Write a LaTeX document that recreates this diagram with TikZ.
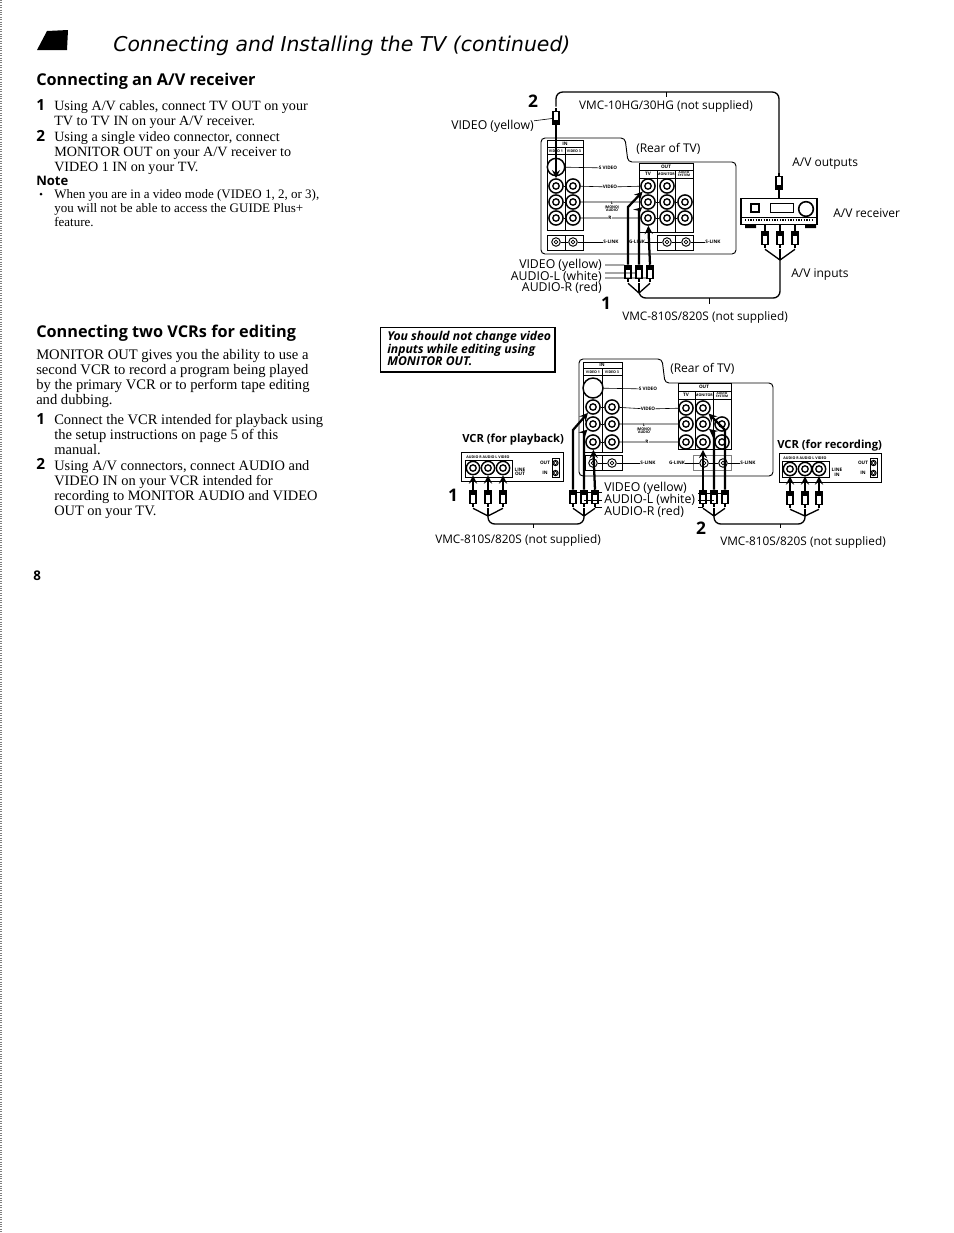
\documentclass[tikz,border=0pt]{standalone}
\usepackage{fontspec}
\setmainfont{Liberation Serif}
\setsansfont{Open Sans}
\newfontfamily\titlefont{DejaVu Sans}
\usetikzlibrary{arrows,positioning,calc}
\newcommand{\pxfont}[1]{\fontsize{#1}{#1}\selectfont}
\newcommand{\linefont}[1]{\fontsize{#1}{11.25}\selectfont}
% plug body: collar towards the tip, tail towards the cable (#4=1 tip up, -1 tip down)
\newcommand{\plugat}[4]{\draw[line width=1.7pt] (#2,{#3+#4*5}) -- (#2,{#3+#4*10});
  \node[plugbody] (#1) at (#2,#3) {};
  \fill (#2-3.5,{#3-#4*7}) rectangle (#2+3.5,{#3-#4*2});}

\begin{document}
\begin{tikzpicture}[x=0.75pt,y=-0.75pt,
    body/.style={font=\linefont{10.6}, align=left, anchor=north west, inner sep=0pt, text depth=0pt},
    stepnum/.style={font=\sffamily\bfseries\pxfont{11.5}, anchor=west, inner sep=0pt},
    head/.style={font=\sffamily\bfseries\pxfont{12.2}, anchor=west, inner sep=0pt},
    lab/.style={font=\sffamily\pxfont{9}, inner sep=0pt},
    vmc/.style={font=\sffamily\pxfont{8.85}, inner sep=0pt},
    wire/.style={font=\sffamily\pxfont{9.2}, inner sep=0pt},
    vcrlab/.style={font=\sffamily\bfseries\pxfont{8.4}, anchor=west, inner sep=0pt},
    bignum/.style={font=\sffamily\bfseries\pxfont{13}, inner sep=0pt},
    tiny/.style={font=\sffamily\bfseries\pxfont{3.5}, inner sep=0pt, align=center},
    tinier/.style={font=\sffamily\bfseries\pxfont{2.7}, inner sep=0pt, align=center},
    panel/.style={draw, line width=.7pt, rounded corners=3pt},
    thin/.style={line width=.45pt},
    jack/.style={circle, draw, fill=white, line width=1.1pt, minimum size=10.6pt, inner sep=0pt,
      path picture={\draw[line width=1pt] (path picture bounding box.center) circle (2.4pt);
      \fill (path picture bounding box.center) circle (.7pt);}},
    svideo/.style={circle, draw, fill=white, line width=1.1pt, minimum size=#1, inner sep=0pt,
      path picture={\foreach \a in {30,150,210,330}
        \fill (path picture bounding box.center) ++(\a:3pt) circle (.7pt);}},
    smalljack/.style={circle, draw, fill=white, line width=.7pt, minimum size=6.4pt, inner sep=0pt,
      path picture={\draw[line width=.6pt] (path picture bounding box.center) circle (1.4pt);}},
    plugbody/.style={draw, fill=white, line width=.9pt, minimum width=4.4pt, minimum height=10pt, inner sep=0pt},
    cable/.style={line width=1pt},
    arr/.style={->, line width=1.7pt, >=stealth}
  ]
  \useasboundingbox (0,0) rectangle (954,1233);
  \fill[white] (0,0) rectangle (954,1233);
  \draw[densely dotted, gray, line width=.8pt] (1,0) -- (1,1233);

  % page header
  \fill (47,31) -- (68,30) -- (67,50) -- (37,50) -- cycle;
  \node[font=\titlefont\itshape\pxfont{15.3}, anchor=west, inner sep=0pt] (title) at (113,46) {Connecting and Installing the TV (continued)};

  % left column
  \node[head] (h1) at (36,81) {Connecting an A/V receiver};
  \node[stepnum] (s1) at (36,105) {1};
  \node[body] (t1) at (54,100) {Using A/V cables, connect TV OUT on your\\TV to TV IN on your A/V receiver.};
  \node[stepnum] (s2) at (36,136) {2};
  \node[body] (t2) at (54,131) {Using a single video connector, connect\\MONITOR OUT on your A/V receiver to\\VIDEO 1 IN on your TV.};
  \node[font=\sffamily\bfseries\pxfont{9.8}, anchor=west, inner sep=0pt] (note) at (36,181) {Note};
  \fill (41,194) circle (1.5);
  \node[body, font=\fontsize{9.75}{10.5}\selectfont] (t3) at (54,189) {When you are in a video mode (VIDEO 1, 2, or 3),\\you will not be able to access the GUIDE Plus+\\feature.};
  \node[head] (h2) at (36,333) {Connecting two VCRs for editing};
  \node[body, font=\linefont{10.95}] (t4) at (36,349) {MONITOR OUT gives you the ability to use a\\second VCR to record a program being played\\by the primary VCR or to perform tape editing\\and dubbing.};
  \node[stepnum] (s3) at (36,419) {1};
  \node[body, font=\linefont{10.9}] (t5) at (54,414) {Connect the VCR intended for playback using\\the setup instructions on page 5 of this\\manual.};
  \node[stepnum] (s4) at (36,464) {2};
  \node[body, font=\linefont{10.8}] (t6) at (54,460) {Using A/V connectors, connect AUDIO and\\VIDEO IN on your VCR intended for\\recording to MONITOR AUDIO and VIDEO\\OUT on your TV.};
  \node[font=\sffamily\bfseries\pxfont{10}, anchor=west, inner sep=0pt] (pagenum) at (33,576) {8};

  % warning box
  \draw[line width=.7pt] (380,327) rectangle (555,372);
  \draw[line width=1.3pt] (380,372) -- (555,372) -- (555,327);
  \node[font=\sffamily\bfseries\itshape\fontsize{9.15}{9.4}\selectfont, align=left, anchor=north west, inner sep=0pt] (warn) at (387,331) {You should not change video\\inputs while editing using\\MONITOR OUT.};

  %% receiver hookup
  \draw[panel] (541,138) -- (625,138) -- (628,162) -- (736,162) -- (736,254) -- (541,254) -- cycle;
  \draw[thin] (547,140) rectangle (583,230) (565,147) -- (565,230) (547,147) -- (583,147) (547,154) -- (583,154);
  \draw[thin] (547,235) rectangle (583,250) (565,235) -- (565,250);
  \draw[thin] (639,163) rectangle (693,232) (639,170) -- (693,170) (639,178) -- (693,178) (657,170) -- (657,232) (675,170) -- (675,232);
  \draw[thin] (657,235) rectangle (693,250) (675,235) -- (675,250);
  \node[tiny] (ain) at (565,144) {IN};
  \node[tinier] (av1) at (556,151) {VIDEO 1};
  \node[tinier] (av3) at (574,151) {VIDEO 3};
  \node[tiny] (aout) at (666,167) {OUT};
  \node[tiny] (atv) at (648,174) {TV};
  \node[tinier] (amon) at (666,174) {MONITOR};
  \node[tinier, font=\sffamily\bfseries\pxfont{2.4}] (asys) at (684,174) {AUDIO\\SYSTEM};
  \node[tiny] (asv) at (608,168) {S VIDEO};
  \node[tiny] (avid) at (610,187) {VIDEO};
  \node[tinier] (aaud) at (612,207) {L\\(MONO)\\AUDIO};
  \node[tiny] (ar) at (610,218) {R};
  \node[tiny] (asl) at (611,242) {S-LINK};
  \node[tiny] (agl) at (637,242) {G-LINK};
  \node[tiny] (asr) at (713,242) {S-LINK};
  \foreach \n/\x/\y in {av/556/186,al/556/202,ar1/556/218,bv/573/186,bl/573/202,br/573/218,
      cv/648/186,cl/648/202,cr/648/218,dv/667/186,dl/667/202,dr/667/218,el/685/202,er/685/218}
    \node[jack] (\n) at (\x,\y) {};
  \node[svideo=13pt] (asvj) at (556,167) {};
  \foreach \n/\x in {asa/556,asb/573,asc/667,asd/686}
    \node[smalljack] (\n) at (\x,242) {};
  \draw[thin] (asvj) -- (asv) (bv) -- (avid) (avid) -- (cv) (bl) -- (aaud.north |- bl) -- (cl) (br) -- (ar) (ar) -- (cr);
  \draw[thin] (av) -- (bv) (al) -- (bl) (ar1) -- (br) (cl) -- (dl) (dl) -- (el) (cr) -- (dr) (dr) -- (er);
  \draw[thin] (asa) -- (asb) (asb) -- (asl) (agl) -- (asc) (asc) -- (asd) (asd) -- (asr);
  % receiver
  \node[draw, line width=.9pt, minimum width=57pt, minimum height=20pt, inner sep=0pt] (recv) at (779,211.5) {};
  \draw[thin] (741,217) -- (817,217);
  \draw[densely dotted, line width=1pt] (745,220) -- (812,220);
  \draw[line width=.9pt] (751,204) rectangle (759,212);
  \draw[thin] (770,203) rectangle (793,212);
  \node[circle, draw, line width=1.2pt, minimum size=11pt, inner sep=0pt] (knob) at (806,209) {};
  \fill (745,225) rectangle (756,228) (805,225) rectangle (816,228);
  % plugs and cables
  \plugat{pa}{556}{118}{-1}
  \plugat{pb}{779}{183}{-1}
  \plugat{pc}{765}{238}{1}
  \plugat{pd}{780}{238}{1}
  \plugat{pe}{795}{238}{1}
  \plugat{pf}{628}{272}{1}
  \plugat{pg}{639}{272}{1}
  \plugat{ph}{650}{272}{1}
  \coordinate (ja) at (780,260);
  \coordinate (jb) at (639,293);
  \coordinate (tka) at (666,92);
  \coordinate (tkb) at (709,298);
  \draw[cable, rounded corners=5pt] (pa.north) ++(0,-4) -- (556,92) -- (779,92) -- (pb.north);
  \draw[cable, rounded corners=5pt] (ja) -- (780,298) -- (639,298) -- (jb);
  \foreach \a/\j in {pc/ja,pd/ja,pe/ja,pf/jb,pg/jb,ph/jb}
    \draw[cable] (\a.south) ++(0,4) -- (\j);
  \draw[thin] (tka) -- ++(0,5) (tkb) -- ++(0,6);
  \draw[arr] (pa.south) -- (av.north);
  \draw[arr] (pf.north) -- (628,207) -- (cv);
  \draw[arr] (pg.north) -- (639,210) -- (cl);
  \draw[arr] (ph.north) -- (cr);
  \draw[line width=1.3pt] (pb.south) -- (pb.south |- recv.north);
  \draw[line width=1.3pt] (pc.north) -- (pc |- recv.south) (pd.north) -- (pd |- recv.south) (pe.north) -- (pe |- recv.south);
  % labels
  \node[bignum] (n2a) at (533,101) {2};
  \node[bignum] (n1a) at (606,303) {1};
  \node[vmc] (la) at (666,106) {VMC-10HG/30HG (not supplied)};
  \node[vmc] (lb) at (705,317) {VMC-810S/820S (not supplied)};
  \node[wire, anchor=east] (lc) at (534,126) {VIDEO (yellow)};
  \node[lab, anchor=west] (ld) at (636,149) {(Rear of TV)};
  \node[lab, anchor=west] (le) at (792,164) {A/V outputs};
  \node[lab, anchor=west] (lf) at (833,213) {A/V receiver};
  \node[lab, anchor=west] (lg) at (791,275) {A/V inputs};
  \node[wire, anchor=east] (lh) at (602,265) {VIDEO (yellow)};
  \node[wire, anchor=east] (li) at (602,276.5) {AUDIO-L (white)};
  \node[wire, anchor=east] (lj) at (602,288) {AUDIO-R (red)};
  \coordinate (lea) at (605,265);
  \coordinate (leb) at (605,273);
  \coordinate (lec) at (605,278);
  \draw[thin] (lc) -- (pa) (lea) -- (lea -| pf.west) (leb) -- (leb -| pg.west) (lec) -- (lec -| ph.west);

  %% vcr hookup
  \draw[panel] (579,359) -- (662,359) -- (665,383) -- (773,383) -- (773,476) -- (579,476) -- cycle;
  \draw[thin] (583,362) rectangle (622,452) (602,368) -- (602,452) (583,368) -- (622,368) (583,375) -- (622,375);
  \draw[thin] (585,455) rectangle (622,470) (602,455) -- (602,470);
  \draw[thin] (678,383) rectangle (731,449) (678,391) -- (731,391) (678,399) -- (731,399) (695,391) -- (695,449) (713,391) -- (713,449);
  \draw[thin, gray] (693,455) rectangle (731,470);
  \node[tiny] (bin) at (602,365) {IN};
  \node[tinier] (bv1) at (593,372) {VIDEO 1};
  \node[tinier] (bv3) at (612,372) {VIDEO 3};
  \node[tiny] (bout) at (704,387) {OUT};
  \node[tiny] (btv) at (686,395) {TV};
  \node[tinier] (bmon) at (704,395) {MONITOR};
  \node[tinier, font=\sffamily\bfseries\pxfont{2.4}] (bsys) at (722,395) {AUDIO\\SYSTEM};
  \node[tiny] (bsv) at (648,389) {S VIDEO};
  \node[tiny] (bvid) at (648,409) {VIDEO};
  \node[tinier] (baud) at (644,429) {L\\(MONO)\\AUDIO};
  \node[tiny] (bar) at (647,442) {R};
  \node[tiny] (bsl) at (648,463) {S-LINK};
  \node[tiny] (bgl) at (677,463) {G-LINK};
  \node[tiny] (bsr) at (748,463) {S-LINK};
  \foreach \n/\x/\y in {fv/593/407,fl/593/424,fr/593/442,gv/612/407,gl/612/424,gr/612/442,
      hv/686/408,hl/686/424,hr/686/442,iv/703/408,il/703/424,ir/703/442,kl/722/424,kr/722/442}
    \node[jack] (\n) at (\x,\y) {};
  \node[svideo=15pt] (bsvj) at (593,388) {};
  \foreach \n/\x in {bsa/593,bsb/612,bsc/704,bsd/723}
    \node[smalljack] (\n) at (\x,463) {};
  \draw[thin] (bsvj) -- (bsv) (gv) -- (bvid) (bvid) -- (hv) (gl) -- (644,424) -- (hl) (gr) -- (bar) (bar) -- (hr);
  \draw[thin] (fv) -- (gv) (fl) -- (gl) (fr) -- (gr);
  \draw[thin] (bsa) -- (bsb) (bsb) -- (bsl) (bgl) -- (bsc) (bsc) -- (bsd) (bsd) -- (bsr);
  % vcr for playback
  \node[draw, line width=.9pt, minimum width=77pt, minimum height=22pt, inner sep=0pt] (vcrp) at (512.5,467) {};
  \draw[thin] (465,460) rectangle (512,477);
  \node[tinier] (vpa) at (488,457.5) {AUDIO R AUDIO L VIDEO};
  \foreach \n/\x in {pja/473,pjb/488,pjc/503}
    \node[jack, minimum size=10pt] (\n) at (\x,468) {};
  \node[tiny] (vpb) at (520,472) {LINE\\OUT};
  \node[tiny] (vpc) at (545,463) {OUT};
  \node[tiny] (vpd) at (545,473) {IN};
  \draw[thin] (552,458) rectangle (559,477);
  \node[smalljack, minimum size=4pt] (vpe) at (555.5,463) {};
  \node[smalljack, minimum size=4pt] (vpf) at (555.5,473) {};
  % vcr for recording
  \node[draw, line width=.9pt, minimum width=77pt, minimum height=22pt, inner sep=0pt] (vcrr) at (830.5,468) {};
  \draw[thin] (782,461) rectangle (829,477);
  \node[tinier] (vra) at (805,458) {AUDIO R AUDIO L VIDEO};
  \foreach \n/\x in {rja/790,rjb/805,rjc/819}
    \node[jack, minimum size=10pt] (\n) at (\x,469) {};
  \node[tiny] (vrb) at (837,472) {LINE\\IN};
  \node[tiny] (vrc) at (863,463) {OUT};
  \node[tiny] (vrd) at (863,473) {IN};
  \draw[thin] (870,458) rectangle (877,477);
  \node[smalljack, minimum size=4pt] (vre) at (873.5,463) {};
  \node[smalljack, minimum size=4pt] (vrf) at (873.5,473) {};
  % plugs and cables
  \plugat{qa}{473}{497}{1}
  \plugat{qb}{488}{497}{1}
  \plugat{qc}{503}{497}{1}
  \plugat{qd}{573}{497}{1}
  \plugat{qe}{584}{497}{1}
  \plugat{qf}{595}{497}{1}
  \plugat{qg}{703}{497}{1}
  \plugat{qh}{714}{497}{1}
  \plugat{qi}{725}{497}{1}
  \plugat{qj}{790}{498}{1}
  \plugat{qk}{805}{498}{1}
  \plugat{ql}{819}{498}{1}
  \coordinate (jc) at (488,516);
  \coordinate (jd) at (584,516);
  \coordinate (je) at (714,516);
  \coordinate (jf) at (805,516);
  \coordinate (tkc) at (533,524);
  \coordinate (tkd) at (780,524);
  \draw[cable, rounded corners=5pt] (jc) -- (488,524) -- (584,524) -- (jd);
  \draw[cable, rounded corners=5pt] (je) -- (714,524) -- (805,524) -- (jf);
  \foreach \a/\j in {qa/jc,qb/jc,qc/jc,qd/jd,qe/jd,qf/jd,qg/je,qh/je,qi/je,qj/jf,qk/jf,ql/jf}
    \draw[cable] (\a.south) ++(0,4) -- (\j);
  \draw[thin] (tkc) -- ++(0,4) (tkd) -- ++(0,4);
  \draw[arr] (qa.north) -- (pja);
  \draw[arr] (qb.north) -- (pjb);
  \draw[arr] (qc.north) -- (pjc);
  \draw[arr] (qj.north) -- (rja);
  \draw[arr] (qk.north) -- (rjb);
  \draw[arr] (ql.north) -- (rjc);
  \draw[arr] (qd.north) -- (573,430) -- (fv);
  \draw[arr] (qe.north) -- (584,433) -- (fl);
  \draw[arr] (qf.north) -- (fr);
  \draw[arr] (qg.north) -- (ir);
  \draw[arr] (qh.north) -- (714,433) -- (il);
  \draw[arr] (qi.north) -- (725,430) -- (iv);
  % labels
  \node[bignum] (n1b) at (453,495) {1};
  \node[bignum] (n2b) at (701,528) {2};
  \node[lab, anchor=west] (ma) at (670,369) {(Rear of TV)};
  \node[vcrlab] (mb) at (462,440) {VCR (for playback)};
  \node[vcrlab] (mc) at (777,446) {VCR (for recording)};
  \node[vmc] (md) at (518,540) {VMC-810S/820S (not supplied)};
  \node[vmc] (me) at (803,542) {VMC-810S/820S (not supplied)};
  \node[wire, anchor=west] (mf) at (604,488) {VIDEO (yellow)};
  \node[wire, anchor=west] (mg) at (604,500) {AUDIO-L (white)};
  \node[wire, anchor=west] (mh) at (604,512) {AUDIO-R (red)};
  \coordinate (lfa) at (602,492);
  \coordinate (lfb) at (602,500);
  \coordinate (lfc) at (602,507);
  \coordinate (lga) at (698,493);
  \coordinate (lgb) at (698,500);
  \coordinate (lgc) at (698,507);
  \draw[thin] (lfa) -- (lfa -| qd) (lfb) -- (lfb -| qe) (lfc) -- (lfc -| qf);
  \draw[thin] (lga) -- (lga -| qi) (lgb) -- (lgb -| qh) (lgc) -- (lgc -| qg);
\end{tikzpicture}
\end{document}
